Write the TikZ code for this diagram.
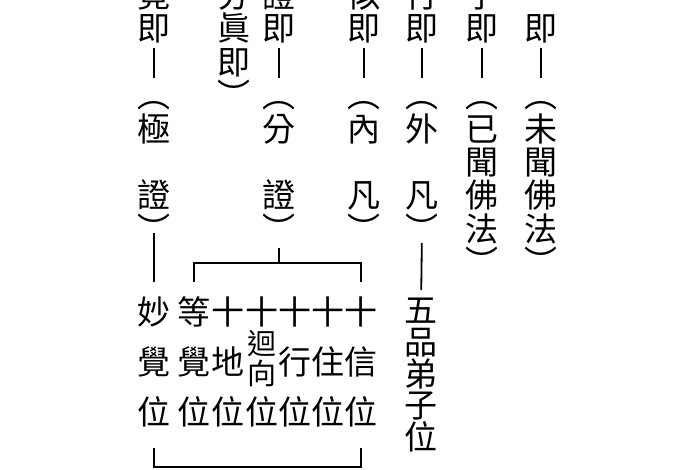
\documentclass[tikz,border=0pt]{standalone}
\usepackage{fontspec}
\newfontfamily\cjk{Noto Sans CJK TC}
\usetikzlibrary{calc}
\begin{document}
\begin{tikzpicture}[x=1pt,y=-1pt,
  ch/.style={font=\cjk\fontsize{33}{33}\selectfont, inner sep=0pt, outer sep=0pt,
    text height=27.4pt, text depth=2.3pt, anchor=center},
  chs/.style={ch, font=\cjk\fontsize{29}{29}\selectfont, text height=24.1pt, text depth=2pt},
  conn/.style={line width=1.8pt, black},
  dash1/.style={conn, shorten <=19.6pt, shorten >=17.2pt}]
\useasboundingbox (0,0) rectangle (700,470);
\clip (0,0) rectangle (700,470);
% upper columns (rows every 33.4 from y=-5)
\foreach \c/\r in {即/1,︵/3,未/4,聞/5,佛/6,法/7,︶/8}
  \node[ch] (li-\r) at (541,{-5+33.4*\r}) {\c};
\foreach \c/\r in {字/0,即/1,︵/3,已/4,聞/5,佛/6,法/7,︶/8}
  \node[ch] (mz-\r) at (482,{-5+33.4*\r}) {\c};
\foreach \c/\r in {行/0,即/1,︵/3,外/4,凡/6,︶/7}
  \node[ch] (gx-\r) at (422,{-5+33.4*\r}) {\c};
\foreach \c/\r in {似/0,即/1,︵/3,內/4,凡/6,︶/7}
  \node[ch] (xs-\r) at (364,{-5+33.4*\r}) {\c};
\foreach \c/\r in {證/0,即/1,︵/3,分/4,證/6,︶/7}
  \node[ch] (fz-\r) at (279,{-5+33.4*\r}) {\c};
\foreach \c/\r in {分/0,眞/1,即/2,︶/3}
  \node[ch] (fc-\r) at (234,{-5+33.4*\r}) {\c};
\foreach \c/\r in {竟/0,即/1,︵/3,極/4,證/6,︶/7}
  \node[ch] (jj-\r) at (154,{-5+33.4*\r}) {\c};
% 五品弟子位
\foreach \c [count=\i] in {五,品,弟,子,位}
  \node[ch] (wp-\i) at (421,{310+31.75*(\i-1)}) {\c};
% lower table
\foreach \c [count=\i] in {妙,覺,位}
  \node[ch] (t1-\i) at (154,{312+50*(\i-1)}) {\c};
\foreach \c [count=\i] in {等,覺,位}
  \node[ch] (t2-\i) at (194,{312+50*(\i-1)}) {\c};
\foreach \c [count=\i] in {十,地,位}
  \node[ch] (t3-\i) at (228,{312+50*(\i-1)}) {\c};
\node[ch] (t4-1) at (262,312) {十};
\node[chs] (t4-2a) at (262,343) {迴};
\node[chs] (t4-2b) at (262,373) {向};
\node[ch] (t4-3) at (262,412) {位};
\foreach \c [count=\i] in {十,行,位}
  \node[ch] (t5-\i) at (295,{312+50*(\i-1)}) {\c};
\foreach \c [count=\i] in {十,住,位}
  \node[ch] (t6-\i) at (328,{312+50*(\i-1)}) {\c};
\foreach \c [count=\i] in {十,信,位}
  \node[ch] (t7-\i) at (361,{312+50*(\i-1)}) {\c};
% connectors
\foreach \n in {li,mz,gx,xs,fz,jj}
  \draw[dash1] (\n-1.center) -- (\n-3.center);
\draw[conn, shorten <=14.2pt, shorten >=20pt] (gx-7.center) -- (wp-1.center);
\draw[conn, shorten <=4.2pt, shorten >=30pt] (jj-7.center) -- (t1-1.center);
\coordinate (brk) at ($(fz-7.center)+(0,34)$);
\draw[conn, shorten <=19pt] (fz-7.center) -- (brk);
\draw[conn] ($(t2-1.center)+(0,-30)$) |- (brk) -| ($(t7-1.center)+(0,-30)$);
\draw[conn] ($(t1-3.center)+(0,36)$) |- ($(t7-3.center)+(0,55)$) -- ($(t7-3.center)+(0,36)$);
\end{tikzpicture}
\end{document}
